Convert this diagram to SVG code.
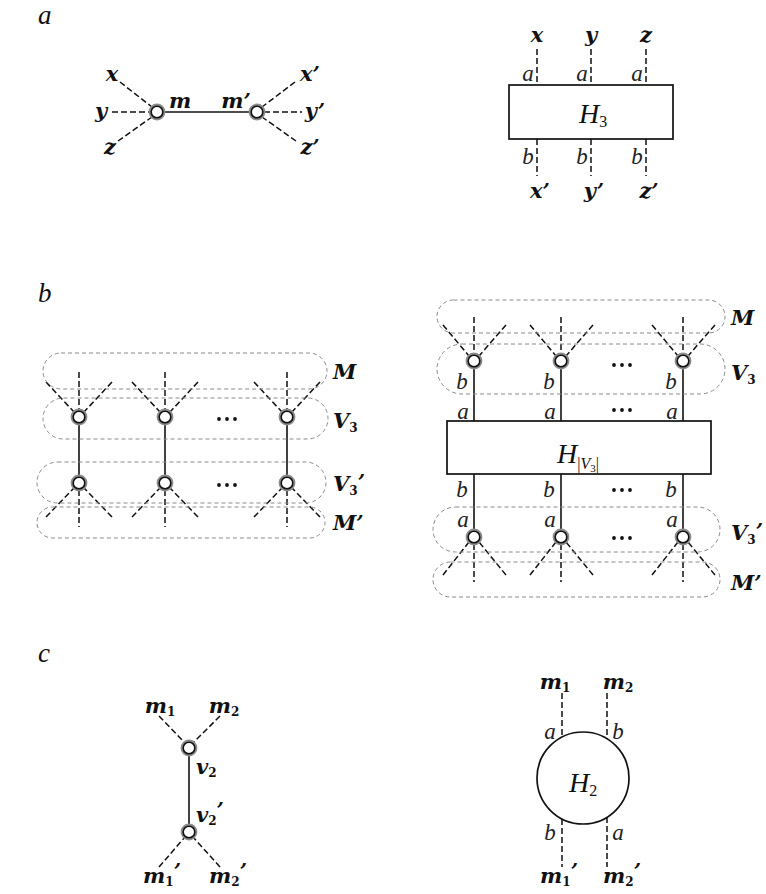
<svg xmlns="http://www.w3.org/2000/svg" width="766" height="894" viewBox="0 0 766 894">
<style>
.bg{fill:#fff}
.d{stroke:#111;stroke-width:1.5;stroke-dasharray:6 3;fill:none}
.s{stroke:#111;stroke-width:1.6;fill:none}
.pill{fill:none;stroke:#8a8a8a;stroke-width:1;stroke-dasharray:4 3}
.box{fill:#fff;stroke:#111;stroke-width:1.7}
.halo{fill:none;stroke:#8c8c8c;stroke-width:2.4}
.core{fill:#fff;stroke:#111;stroke-width:1.6}
.v{font-family:"DejaVu Serif",serif;font-style:italic;font-weight:bold;font-size:21px;fill:#111}
.l{font-family:"Liberation Serif",serif;font-style:italic;font-size:23px;fill:#222}
.p{font-family:"Liberation Serif",serif;font-style:italic;font-size:27px;fill:#111}
.h{font-family:"Liberation Serif",serif;font-style:italic;font-size:28px;fill:#111}
.sub{font-size:16px;font-style:normal}
.vsub{font-size:12px;font-style:normal}
.vs{font-size:11px;font-style:normal}
.dot{fill:#111}
</style>
<defs>
<g id="node"><circle r="7.2" class="halo"/><circle r="5.8" class="core"/></g>
<g id="dots"><circle cx="-8" r="1.9" class="dot"/><circle r="1.9" class="dot"/><circle cx="8" r="1.9" class="dot"/></g>
</defs>
<rect width="766" height="894" class="bg"/>

<!-- panel letters -->
<text class="p" x="38" y="24">a</text>
<text class="p" x="38" y="302">b</text>
<text class="p" x="38" y="662">c</text>

<!-- connectors -->
<g id="connectors">
  <!-- a left -->
  <line class="d" x1="120" y1="82" x2="152" y2="107"/>
  <line class="d" x1="112" y1="112" x2="150" y2="112"/>
  <line class="d" x1="118" y1="141" x2="152" y2="117"/>
  <line class="s" x1="164" y1="112" x2="250" y2="112"/>
  <line class="d" x1="295" y1="82" x2="262" y2="107"/>
  <line class="d" x1="264" y1="112" x2="302" y2="112"/>
  <line class="d" x1="296" y1="141" x2="262" y2="117"/>
  <!-- a right -->
  <line class="d" x1="537" y1="49" x2="537" y2="85"/>
  <line class="d" x1="591" y1="49" x2="591" y2="85"/>
  <line class="d" x1="646" y1="49" x2="646" y2="85"/>
  <line class="d" x1="537" y1="139" x2="537" y2="176"/>
  <line class="d" x1="591" y1="139" x2="591" y2="176"/>
  <line class="d" x1="646" y1="139" x2="646" y2="176"/>
  <!-- b left -->
  <g>
    <line class="d" x1="79" y1="372" x2="79" y2="410"/>
    <line class="d" x1="46" y1="382" x2="74" y2="412"/>
    <line class="d" x1="112" y1="382" x2="84" y2="412"/>
    <line class="s" x1="79" y1="424" x2="79" y2="476"/>
    <line class="d" x1="79" y1="490" x2="79" y2="527"/>
    <line class="d" x1="46" y1="517" x2="74" y2="488"/>
    <line class="d" x1="112" y1="517" x2="84" y2="488"/>

    <line class="d" x1="165" y1="372" x2="165" y2="410"/>
    <line class="d" x1="132" y1="382" x2="160" y2="412"/>
    <line class="d" x1="198" y1="382" x2="170" y2="412"/>
    <line class="s" x1="165" y1="424" x2="165" y2="476"/>
    <line class="d" x1="165" y1="490" x2="165" y2="527"/>
    <line class="d" x1="132" y1="517" x2="160" y2="488"/>
    <line class="d" x1="198" y1="517" x2="170" y2="488"/>

    <line class="d" x1="287" y1="372" x2="287" y2="410"/>
    <line class="d" x1="254" y1="382" x2="282" y2="412"/>
    <line class="d" x1="320" y1="382" x2="292" y2="412"/>
    <line class="s" x1="287" y1="424" x2="287" y2="476"/>
    <line class="d" x1="287" y1="490" x2="287" y2="527"/>
    <line class="d" x1="254" y1="517" x2="282" y2="488"/>
    <line class="d" x1="320" y1="517" x2="292" y2="488"/>
  </g>
  <!-- b right -->
  <g>
    <line class="d" x1="474" y1="317" x2="474" y2="354"/>
    <line class="d" x1="443" y1="325" x2="469" y2="356"/>
    <line class="d" x1="506" y1="325" x2="479" y2="356"/>
    <line class="s" x1="474" y1="368" x2="474" y2="421"/>
    <line class="s" x1="474" y1="474" x2="474" y2="530"/>
    <line class="d" x1="474" y1="544" x2="474" y2="582"/>
    <line class="d" x1="443" y1="575" x2="469" y2="542"/>
    <line class="d" x1="506" y1="575" x2="479" y2="542"/>

    <line class="d" x1="561" y1="317" x2="561" y2="354"/>
    <line class="d" x1="530" y1="325" x2="556" y2="356"/>
    <line class="d" x1="593" y1="325" x2="566" y2="356"/>
    <line class="s" x1="561" y1="368" x2="561" y2="421"/>
    <line class="s" x1="561" y1="474" x2="561" y2="530"/>
    <line class="d" x1="561" y1="544" x2="561" y2="582"/>
    <line class="d" x1="530" y1="575" x2="556" y2="542"/>
    <line class="d" x1="593" y1="575" x2="566" y2="542"/>

    <line class="d" x1="683" y1="317" x2="683" y2="354"/>
    <line class="d" x1="652" y1="325" x2="678" y2="356"/>
    <line class="d" x1="715" y1="325" x2="688" y2="356"/>
    <line class="s" x1="683" y1="368" x2="683" y2="421"/>
    <line class="s" x1="683" y1="474" x2="683" y2="530"/>
    <line class="d" x1="683" y1="544" x2="683" y2="582"/>
    <line class="d" x1="652" y1="575" x2="678" y2="542"/>
    <line class="d" x1="715" y1="575" x2="688" y2="542"/>
  </g>
  <!-- c left -->
  <line class="d" x1="159" y1="716" x2="185" y2="743"/>
  <line class="d" x1="220" y1="716" x2="193" y2="743"/>
  <line class="s" x1="189" y1="755" x2="189" y2="825"/>
  <line class="d" x1="159" y1="867" x2="185" y2="837"/>
  <line class="d" x1="220" y1="867" x2="193" y2="837"/>
  <!-- c right -->
  <line class="d" x1="562" y1="693" x2="562" y2="737"/>
  <line class="d" x1="607" y1="693" x2="607" y2="739"/>
  <line class="d" x1="562" y1="819" x2="562" y2="867"/>
  <line class="d" x1="607" y1="817" x2="607" y2="867"/>
</g>

<!-- pills (b) -->
<g id="groups">
  <rect class="pill" x="43" y="353" width="284" height="36" rx="18"/>
  <rect class="pill" x="43" y="398" width="285" height="41" rx="20.5"/>
  <rect class="pill" x="37" y="462" width="289" height="41" rx="20.5"/>
  <rect class="pill" x="37" y="507" width="288" height="31" rx="15.5"/>
  <rect class="pill" x="437" y="300" width="288" height="33" rx="16.5"/>
  <rect class="pill" x="437" y="344" width="288" height="50" rx="25"/>
  <rect class="pill" x="433" y="507" width="287" height="45" rx="22.5"/>
  <rect class="pill" x="433" y="562" width="287" height="35" rx="17.5"/>
</g>

<!-- panel a nodes -->
<g id="a-m"><use href="#node" x="157" y="112"/></g>
<g id="a-m2"><use href="#node" x="257" y="112"/></g>
<g id="a-H3">
  <rect class="box" x="509" y="85" width="164" height="54"/>
  <text class="h" x="579" y="123">H<tspan class="sub" dy="4">3</tspan></text>
</g>

<!-- panel b left nodes -->
<g id="bl-top">
  <use href="#node" x="79" y="417"/><use href="#node" x="165" y="417"/><use href="#node" x="287" y="417"/>
</g>
<g id="bl-bot">
  <use href="#node" x="79" y="483"/><use href="#node" x="165" y="483"/><use href="#node" x="287" y="483"/>
</g>
<use href="#dots" x="227" y="419"/>
<use href="#dots" x="227" y="485"/>

<!-- panel b right nodes -->
<g id="br-top">
  <use href="#node" x="474" y="361"/><use href="#node" x="561" y="361"/><use href="#node" x="683" y="361"/>
</g>
<g id="br-H">
  <rect class="box" x="447" y="421" width="264" height="53"/>
  <text class="h" x="557" y="463">H<tspan class="sub" dy="6">|</tspan><tspan class="sub" style="font-style:italic">V</tspan><tspan class="vs" dy="3">3</tspan><tspan class="sub" dy="-3">|</tspan></text>
</g>
<g id="br-bot">
  <use href="#node" x="474" y="537"/><use href="#node" x="561" y="537"/><use href="#node" x="683" y="537"/>
</g>
<use href="#dots" x="622" y="365"/>
<use href="#dots" x="622" y="410"/>
<use href="#dots" x="622" y="490"/>
<use href="#dots" x="622" y="538"/>

<!-- panel c nodes -->
<g id="c-v2"><use href="#node" x="189" y="748"/></g>
<g id="c-v2p"><use href="#node" x="189" y="832"/></g>
<g id="c-H2">
  <circle cx="583" cy="778" r="46" fill="#fff" stroke="#111" stroke-width="1.7"/>
  <text class="h" x="569" y="792">H<tspan class="sub" dy="4">2</tspan></text>
</g>

<!-- labels -->
<g id="labels">
  <text class="v" x="112" y="81" text-anchor="middle">x</text>
  <text class="v" x="101" y="118" text-anchor="middle">y</text>
  <text class="v" x="110" y="154" text-anchor="middle">z</text>
  <text class="v" x="310" y="81" text-anchor="middle">x’</text>
  <text class="v" x="315" y="118" text-anchor="middle">y’</text>
  <text class="v" x="310" y="154" text-anchor="middle">z’</text>
  <text class="v" x="180" y="108" text-anchor="middle">m</text>
  <text class="v" x="236" y="108" text-anchor="middle">m’</text>

  <text class="v" x="537" y="42" text-anchor="middle">x</text>
  <text class="v" x="591" y="42" text-anchor="middle">y</text>
  <text class="v" x="646" y="42" text-anchor="middle">z</text>
  <text class="l" x="528" y="81" text-anchor="middle">a</text>
  <text class="l" x="582" y="81" text-anchor="middle">a</text>
  <text class="l" x="637" y="81" text-anchor="middle">a</text>
  <text class="l" x="528" y="164" text-anchor="middle">b</text>
  <text class="l" x="582" y="164" text-anchor="middle">b</text>
  <text class="l" x="637" y="164" text-anchor="middle">b</text>
  <text class="v" x="540" y="198" text-anchor="middle">x’</text>
  <text class="v" x="594" y="198" text-anchor="middle">y’</text>
  <text class="v" x="649" y="198" text-anchor="middle">z’</text>

  <text class="v" x="333" y="379">M</text>
  <text class="v" x="333" y="428">V<tspan class="vsub" dy="4">3</tspan></text>
  <text class="v" x="333" y="491">V<tspan class="vsub" dy="4">3</tspan><tspan dy="-6">’</tspan></text>
  <text class="v" x="333" y="530">M’</text>

  <text class="v" x="731" y="325">M</text>
  <text class="v" x="731" y="380">V<tspan class="vsub" dy="4">3</tspan></text>
  <text class="v" x="731" y="540">V<tspan class="vsub" dy="4">3</tspan><tspan dy="-6">’</tspan></text>
  <text class="v" x="731" y="590">M’</text>

  <text class="l" x="462" y="389" text-anchor="middle">b</text>
  <text class="l" x="549" y="389" text-anchor="middle">b</text>
  <text class="l" x="671" y="389" text-anchor="middle">b</text>
  <text class="l" x="463" y="419" text-anchor="middle">a</text>
  <text class="l" x="550" y="419" text-anchor="middle">a</text>
  <text class="l" x="672" y="419" text-anchor="middle">a</text>
  <text class="l" x="462" y="497" text-anchor="middle">b</text>
  <text class="l" x="549" y="497" text-anchor="middle">b</text>
  <text class="l" x="671" y="497" text-anchor="middle">b</text>
  <text class="l" x="463" y="527" text-anchor="middle">a</text>
  <text class="l" x="550" y="527" text-anchor="middle">a</text>
  <text class="l" x="672" y="527" text-anchor="middle">a</text>

  <text class="v" x="160" y="713" text-anchor="middle">m<tspan class="vsub" dy="3">1</tspan></text>
  <text class="v" x="224" y="713" text-anchor="middle">m<tspan class="vsub" dy="3">2</tspan></text>
  <text class="v" x="196" y="774">v<tspan class="vsub" dy="3">2</tspan></text>
  <text class="v" x="196" y="822">v<tspan class="vsub" dy="3">2</tspan><tspan dy="-8">’</tspan></text>
  <text class="v" x="162" y="883" text-anchor="middle">m<tspan class="vsub" dy="3">1</tspan><tspan dy="-8">’</tspan></text>
  <text class="v" x="228" y="883" text-anchor="middle">m<tspan class="vsub" dy="3">2</tspan><tspan dy="-8">’</tspan></text>

  <text class="v" x="555" y="689" text-anchor="middle">m<tspan class="vsub" dy="3">1</tspan></text>
  <text class="v" x="618" y="689" text-anchor="middle">m<tspan class="vsub" dy="3">2</tspan></text>
  <text class="l" x="550" y="739" text-anchor="middle">a</text>
  <text class="l" x="618" y="739" text-anchor="middle">b</text>
  <text class="l" x="550" y="840" text-anchor="middle">b</text>
  <text class="l" x="618" y="840" text-anchor="middle">a</text>
  <text class="v" x="559" y="883" text-anchor="middle">m<tspan class="vsub" dy="3">1</tspan><tspan dy="-8">’</tspan></text>
  <text class="v" x="622" y="883" text-anchor="middle">m<tspan class="vsub" dy="3">2</tspan><tspan dy="-8">’</tspan></text>
</g>
</svg>
